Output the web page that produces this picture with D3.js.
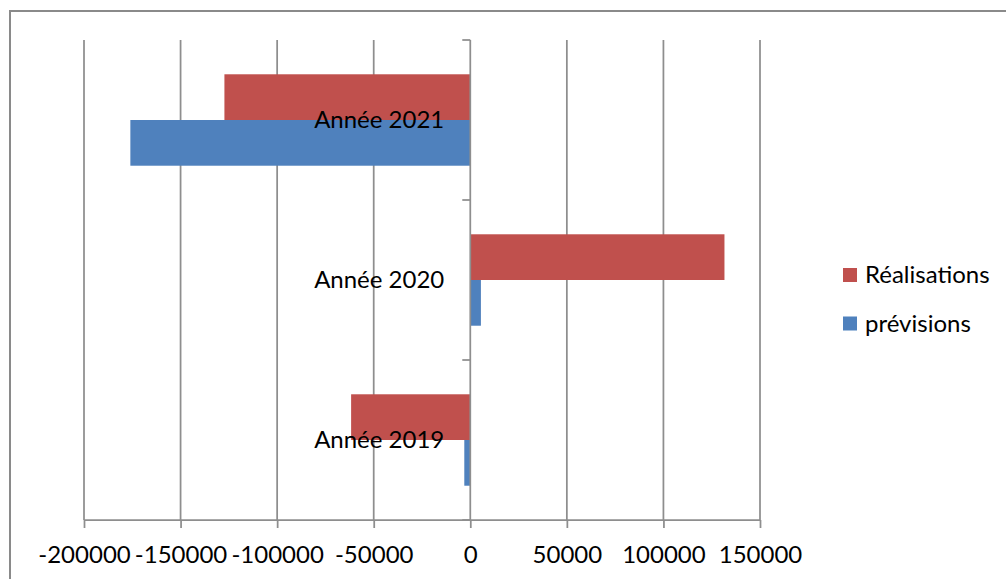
<!DOCTYPE html>
<html>
<head>
<meta charset="utf-8">
<script src="https://cdn.jsdelivr.net/npm/d3@7"></script>
<style>
  html, body { margin: 0; padding: 0; background: #fff; }
  svg { display: block; font-family: Lato, "Noto Sans", sans-serif; }
</style>
</head>
<body>
<svg id="chart" width="1006" height="579"></svg>
<script>
// Categories, top to bottom as drawn
const categories = ["Année 2021", "Année 2020", "Année 2019"];
const seriesNames = ["Réalisations", "prévisions"];
const realisations = [-127300, 131600, -61700];
const previsions = [-176000, 5500, -3100];
const xTicks = [-200000, -150000, -100000, -50000, 0, 50000, 100000, 150000];
const colors = { "Réalisations": "#c0504d", "prévisions": "#4f81bd" };

const svg = d3.select("#chart");
const W = 1006, H = 579;
const plot = { left: 84, right: 760, top: 40, bottom: 520 };
const gridColor = "#8e8e8e";
const fontSize = 24;

// Outer chart frame
svg.append("rect")
  .attr("x", 10).attr("y", 11)
  .attr("width", W + 20).attr("height", H + 20)
  .attr("fill", "#fff").attr("stroke", "#8a8a8a").attr("stroke-width", 2);

const x = d3.scaleLinear().domain([-200000, 150000]).range([plot.left, plot.right]);
const y = d3.scaleBand().domain(categories).range([plot.top, plot.bottom]).padding(0);
const ySeries = d3.scaleBand().domain(seriesNames).range([0, y.bandwidth()])
  .paddingInner(0).paddingOuter(0.75);

// Vertical gridlines
svg.append("g").selectAll("line")
  .data(xTicks.filter(t => t !== 0))
  .join("line")
  .attr("x1", d => x(d)).attr("x2", d => x(d))
  .attr("y1", plot.top).attr("y2", plot.bottom)
  .attr("stroke", gridColor).attr("stroke-width", 1.75);

// Bars
const rows = categories.map((c, i) => ({
  cat: c,
  values: [
    { name: "Réalisations", v: realisations[i] },
    { name: "prévisions", v: previsions[i] }
  ]
}));

const groups = svg.append("g").selectAll("g")
  .data(rows).join("g")
  .attr("transform", d => `translate(0,${y(d.cat)})`);

groups.selectAll("rect")
  .data(d => d.values)
  .join("rect")
  .attr("x", d => x(Math.min(0, d.v)))
  .attr("width", d => Math.abs(x(d.v) - x(0)))
  .attr("y", d => ySeries(d.name))
  .attr("height", ySeries.bandwidth())
  .attr("fill", d => colors[d.name]);

// Bottom value axis (plain hyphen for negatives)
const fmt = d => String(d);
const xAxis = svg.append("g")
  .attr("transform", `translate(0,${plot.bottom})`)
  .call(d3.axisBottom(x).tickValues(xTicks).tickSize(8).tickFormat(fmt).tickPadding(18));
xAxis.select(".domain").attr("stroke", gridColor).attr("stroke-width", 1.75)
  .attr("d", `M${plot.left},0H${plot.right}`);
xAxis.selectAll(".tick line").attr("stroke", gridColor).attr("stroke-width", 1.75);
xAxis.selectAll(".tick text")
  .attr("fill", "#000").attr("font-size", fontSize)
  .attr("font-family", "Lato, 'Noto Sans', sans-serif");

// Category axis at zero
const yAxis = svg.append("g")
  .attr("transform", `translate(${x(0)},0)`);
yAxis.append("line")
  .attr("x1", 0).attr("x2", 0)
  .attr("y1", plot.top).attr("y2", plot.bottom)
  .attr("stroke", gridColor).attr("stroke-width", 1.75);
const bounds = categories.map(c => y(c)).concat([plot.bottom]);
yAxis.selectAll("line.tick")
  .data(bounds).join("line")
  .attr("class", "tick")
  .attr("x1", -8).attr("x2", 0)
  .attr("y1", d => d).attr("y2", d => d)
  .attr("stroke", gridColor).attr("stroke-width", 1.75);

yAxis.selectAll("text")
  .data(categories).join("text")
  .attr("x", -26)
  .attr("y", d => y(d) + y.bandwidth() / 2)
  .attr("dy", "0.35em")
  .attr("text-anchor", "end")
  .attr("font-size", fontSize)
  .attr("fill", "#000")
  .text(d => d);

// Legend
const legend = svg.append("g").attr("transform", "translate(843,268)");
const li = legend.selectAll("g").data(seriesNames).join("g")
  .attr("transform", (d, i) => `translate(0,${i * 48.5})`);
li.append("rect").attr("width", 14).attr("height", 14).attr("fill", d => colors[d]);
li.append("text")
  .attr("x", 22).attr("y", 7).attr("dy", "0.35em")
  .attr("font-size", fontSize).attr("fill", "#000")
  .text(d => d);
</script>
</body>
</html>
